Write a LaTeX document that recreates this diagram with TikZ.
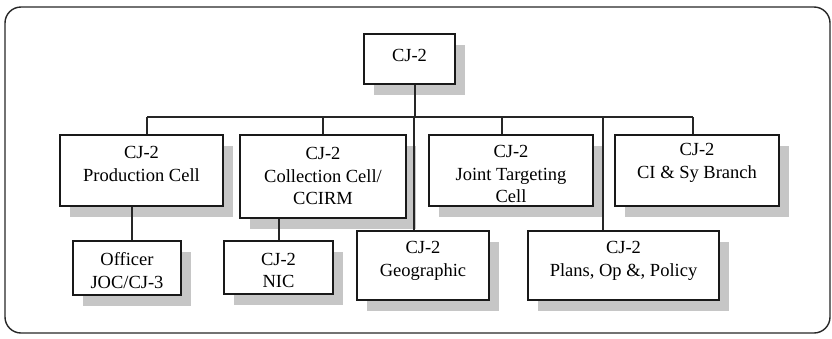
\documentclass[tikz,border=0pt]{standalone}
\usepackage{fontspec}
\setmainfont{Liberation Serif}
\usetikzlibrary{shadows,calc}
\begin{document}
\begin{tikzpicture}[x=1pt,y=-1pt,
  box/.style={draw=black!90, line width=1.4pt, fill=white, rectangle, inner sep=0pt,
    drop shadow={shadow xshift=10pt, shadow yshift=-11pt, fill=gray!45, draw=none, opacity=1}},
  lbl/.style={align=center, font=\fontsize{18.5}{22.5}\selectfont, inner sep=0pt, text=black},
  conn/.style={draw=black!85, line width=1.2pt}]
\useasboundingbox (0,0) rectangle (832,338);
\draw[line width=1.4pt, rounded corners=16pt, draw=black!85] (5,7) rectangle (830,333);
% boxes
\node[box, minimum width=91pt,  minimum height=50pt] (top)   at (409.5,59)   {};
\node[box, minimum width=163pt, minimum height=71pt] (prod)  at (141.5,170.5) {};
\node[box, minimum width=166pt, minimum height=83pt] (coll)  at (323,176.5)  {};
\node[box, minimum width=164pt, minimum height=71pt] (joint) at (511,170.5)  {};
\node[box, minimum width=164pt, minimum height=71pt] (ci)    at (697,170.5)  {};
\node[box, minimum width=108pt, minimum height=54pt] (off)   at (127,268)    {};
\node[box, minimum width=109pt, minimum height=53pt] (nic)   at (278.5,267.5) {};
\node[box, minimum width=132pt, minimum height=69pt] (geo)   at (423,265.5)  {};
\node[box, minimum width=191pt, minimum height=69pt] (plans) at (623.5,265.5) {};
% labels
\node[lbl] (ttop)   at (409.5,55)  {CJ-2};
\node[lbl] (tprod)  at (141.5,164) {CJ-2\\Production Cell};
\node[lbl] (tcoll)  at (323,176)   {CJ-2\\Collection Cell/\\CCIRM};
\node[lbl] (tjoint) at (511,174)   {CJ-2\\Joint Targeting\\Cell};
\node[lbl] (tci)    at (697,163)   {CJ-2\\CI \& Sy Branch};
\node[lbl] (toff)   at (127,270.5) {Officer\\JOC/CJ-3};
\node[lbl] (tnic)   at (278.5,270.5) {CJ-2\\NIC};
\node[lbl] (tgeo)   at (423,261)   {CJ-2\\Geographic};
\node[lbl] (tplans) at (623.5,261) {CJ-2\\Plans, Op \&, Policy};
% connectors
\coordinate (bus) at (415,117);
\coordinate (ptop)   at ($(top.south)+(5.5,0)$);
\coordinate (pprod)  at ($(prod.north)+(5.5,0)$);
\coordinate (pcoll)  at (coll.north);
\coordinate (pjoint) at ($(joint.north)+(-9,0)$);
\coordinate (pci)    at ($(ci.north)+(-4,0)$);
\coordinate (pgeo)   at ($(geo.north)+(-9,0)$);
\coordinate (pplans) at ($(plans.north)+(-20.5,0)$);
\coordinate (poff)   at ($(off.north)+(5,0)$);
\coordinate (pnic)   at ($(nic.north)+(0.5,0)$);
\draw[conn] (ptop) -- (ptop |- bus);
\draw[conn] (pprod |- bus) -- (pci |- bus);
\draw[conn] (pprod) -- (pprod |- bus);
\draw[conn] (pcoll) -- (pcoll |- bus);
\draw[conn] (pjoint) -- (pjoint |- bus);
\draw[conn] (pci) -- (pci |- bus);
\draw[conn] (pgeo) -- (pgeo |- bus);
\draw[conn] (pplans) -- (pplans |- bus);
\draw[conn] (poff) -- (poff |- prod.south);
\draw[conn] (pnic) -- (pnic |- coll.south);
\end{tikzpicture}
\end{document}
